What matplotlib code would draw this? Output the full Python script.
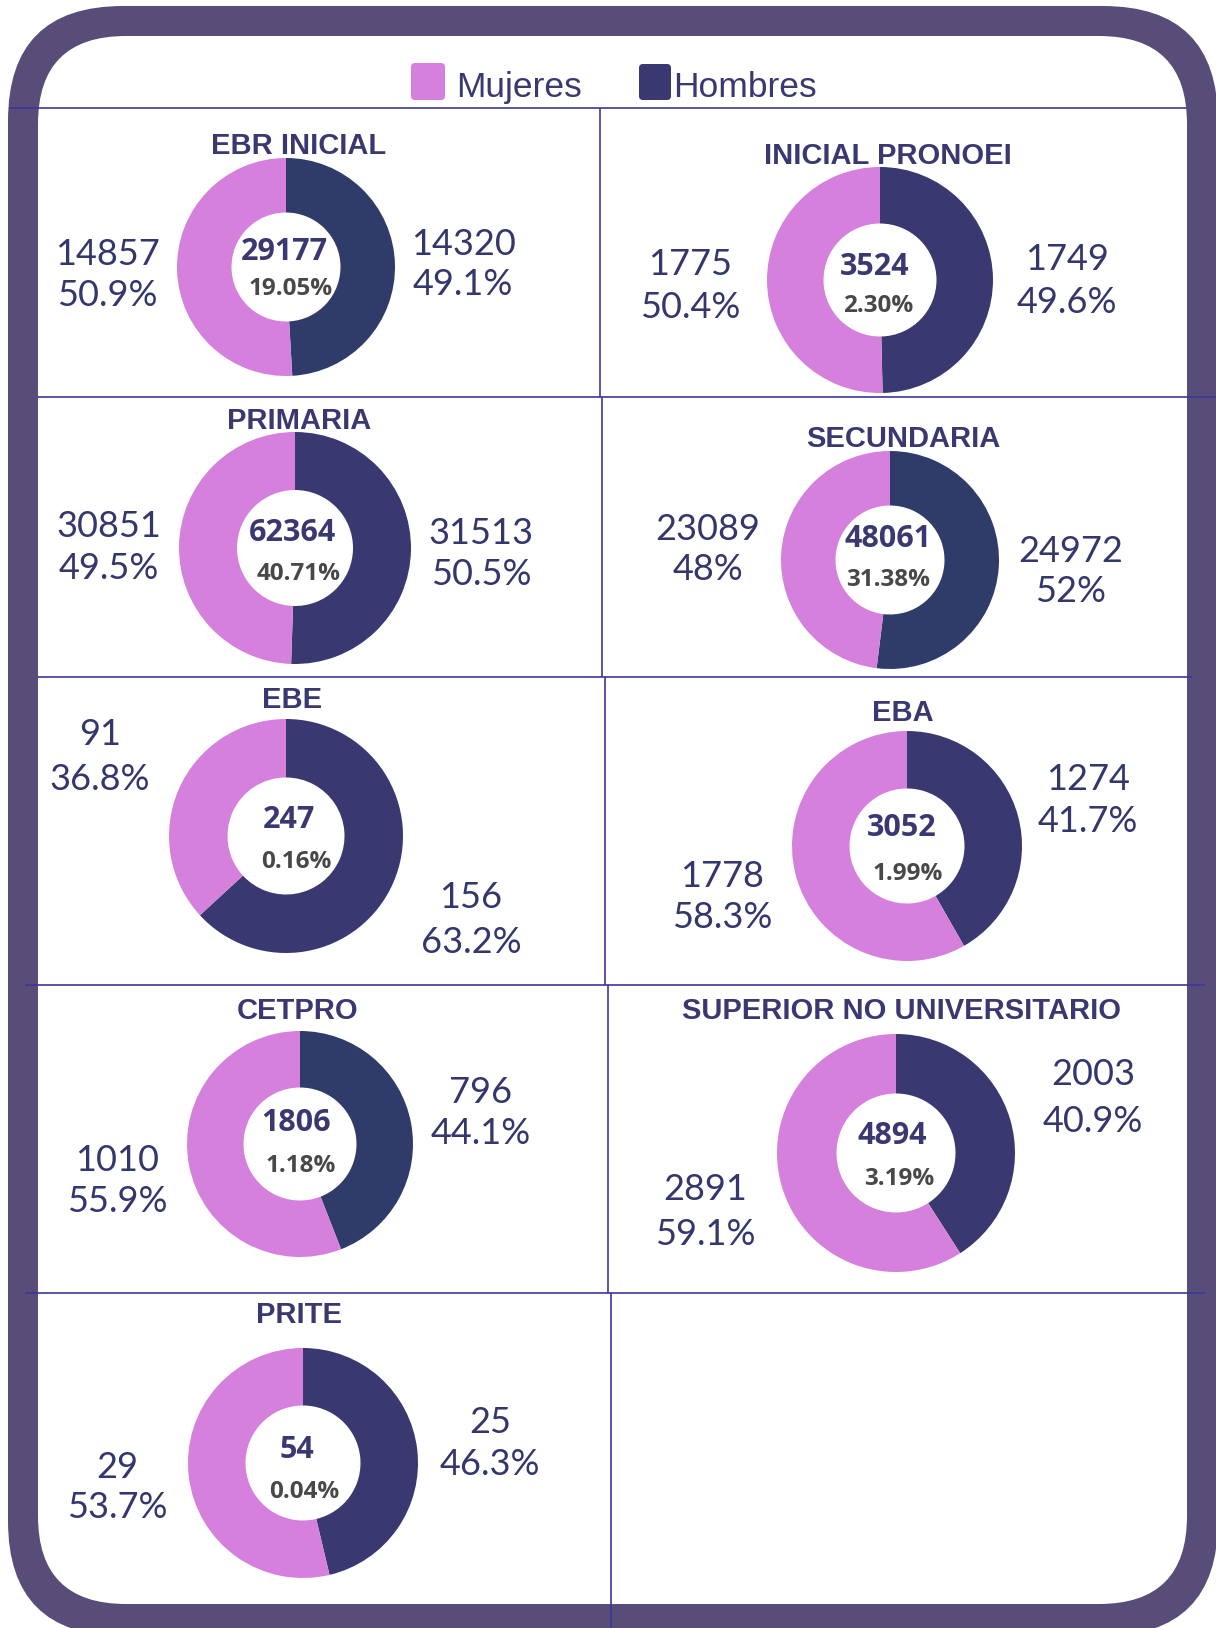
import matplotlib
matplotlib.use("Agg")
import matplotlib.pyplot as plt
from matplotlib.patches import FancyBboxPatch

# ---------------- data ----------------
categories = ["EBR INICIAL", "INICIAL PRONOEI", "PRIMARIA", "SECUNDARIA", "EBE",
              "EBA", "CETPRO", "SUPERIOR NO UNIVERSITARIO", "PRITE"]
mujeres = [14857, 1775, 30851, 23089, 91, 1778, 1010, 2891, 29]
hombres = [14320, 1749, 31513, 24972, 156, 1274, 796, 2003, 25]
legend_labels = ["Mujeres", "Hombres"]

# ---------------- style ----------------
W, H = 1216, 1628
PINK = "#D580DD"
NAVY_B = "#2F3B69"
NAVY_P = "#3A3870"
dark_colors = [NAVY_B, NAVY_P, NAVY_P, NAVY_B, NAVY_P, NAVY_P, NAVY_B, NAVY_P, NAVY_P]
FRAME = "#584C79"
LINE = "#3D3799"
TXT = "#33376B"
TITLE = "#3A3870"
GRAY = "#484848"

# layout (pixels): donut center x, center y, radius
donut_pos = [(286, 267, 109), (880, 280, 113), (295, 548, 116), (890, 560, 109),
             (286, 836, 117), (907, 846, 115), (300, 1144, 113), (896, 1153, 119),
             (303, 1463, 115)]
title_pos = [(299, 154), (888, 164), (299, 429), (903, 447), (292, 708),
             (903, 721), (298, 1019), (902, 1019), (299, 1323)]
# mujeres label: x, baseline1, baseline2 ; hombres label likewise
muj_lab = [(107, 265, 306), (690, 275, 318), (109, 537, 579), (708, 540, 580),
           (100, 745, 790), (722, 887, 928), (117, 1171, 1212), (705, 1200, 1245),
           (117, 1478, 1518)]
hom_lab = [(463, 255, 295), (1067, 270, 313), (481, 544, 585), (1071, 562, 602),
           (471, 908, 953), (1088, 790, 832), (481, 1103, 1144), (1093, 1085, 1132),
           (490, 1433, 1475)]
cent_lab = [((284, 260), (291, 295)), ((875, 275), (878, 312)), ((292, 541), (299, 580)),
            ((888, 547), (888, 586)), ((289, 828), (296, 868)), ((902, 836), (908, 880)),
            ((296, 1131), (301, 1172)), ((892, 1144), (899, 1185)), ((297, 1458), (304, 1498))]

fig = plt.figure(figsize=(W / 100, H / 100), dpi=100)
fig.patch.set_facecolor("white")
ax = fig.add_axes([0, 0, 1, 1])
ax.set_xlim(0, W)
ax.set_ylim(H, 0)
ax.axis("off")

# frame
ax.add_patch(FancyBboxPatch((8, 6), 1216 - 8 + 2, 1636 - 6, boxstyle="round,pad=0,rounding_size=115",
                            fc=FRAME, ec="none", zorder=1))
ax.add_patch(FancyBboxPatch((38, 36), 1187 - 38, 1604 - 36, boxstyle="round,pad=0,rounding_size=88",
                            fc="white", ec="none", zorder=2))

# grid lines
hlines = [(9, 1187, 108), (38, 1216, 397), (38, 1192, 677), (25, 1205, 985), (25, 1205, 1293)]
vlines = [(600, 108, 397), (602, 397, 677), (605, 677, 985), (608, 985, 1293), (611, 1293, 1628)]
for x0, x1, y in hlines:
    ax.plot([x0, x1], [y, y], color=LINE, lw=1.2, zorder=3, solid_capstyle="butt")
for x, y0, y1 in vlines:
    ax.plot([x, x], [y0, y1], color=LINE, lw=1.2, zorder=3, solid_capstyle="butt")

# legend
ax.add_patch(FancyBboxPatch((411, 63), 34, 37, boxstyle="round,pad=0,rounding_size=4",
                            fc=PINK, ec="none", zorder=4))
ax.add_patch(FancyBboxPatch((639, 64), 32, 36, boxstyle="round,pad=0,rounding_size=4",
                            fc=NAVY_P, ec="none", zorder=4))
ax.text(456, 97, legend_labels[0], fontsize=25.5, family="Liberation Sans", color=TITLE,
        ha="left", va="baseline", zorder=5)
ax.text(673, 97, legend_labels[1], fontsize=25.5, family="Liberation Sans", color=TITLE,
        ha="left", va="baseline", zorder=5)

grand_total = sum(mujeres) + sum(hombres)


def fmt_pct(p):
    s = f"{p:.1f}"
    if s.endswith(".0"):
        s = s[:-2]
    return s + "%"


LAB = dict(fontsize=26, family="Lato", fontweight="normal", color=TXT,
           ha="center", va="baseline", zorder=5)

for i, cat in enumerate(categories):
    m, h = mujeres[i], hombres[i]
    tot = m + h
    cx, cy, r = donut_pos[i]
    dax = fig.add_axes([(cx - r) / W, (H - cy - r) / H, 2 * r / W, 2 * r / H])
    dax.pie([h, m], colors=[dark_colors[i], PINK], startangle=90, counterclock=False,
            radius=1.0, wedgeprops=dict(width=0.5, edgecolor="none"))
    dax.set_xlim(-1, 1)
    dax.set_ylim(-1, 1)
    dax.set_aspect("equal")
    dax.axis("off")

    tx, ty = title_pos[i]
    ax.text(tx, ty, cat, fontsize=21, fontweight="bold", family="Liberation Sans",
            color=TITLE, ha="center", va="baseline", zorder=5)

    lx, b1, b2 = muj_lab[i]
    ax.text(lx, b1, f"{m}", **LAB)
    ax.text(lx, b2, fmt_pct(100 * m / tot), **LAB)
    lx, b1, b2 = hom_lab[i]
    ax.text(lx, b1, f"{h}", **LAB)
    ax.text(lx, b2, fmt_pct(100 * h / tot), **LAB)

    (c1x, c1y), (c2x, c2y) = cent_lab[i]
    fig.text(c1x / W, 1 - c1y / H, f"{tot}", fontsize=22, fontweight="bold", family="Open Sans",
             color=TITLE, ha="center", va="baseline", zorder=10)
    fig.text(c2x / W, 1 - c2y / H, f"{100 * tot / grand_total:.2f}%", fontsize=17.5,
             fontweight="bold", family="Open Sans", color=GRAY, ha="center", va="baseline", zorder=10)

fig.savefig("out.png", dpi=100, facecolor="white")
